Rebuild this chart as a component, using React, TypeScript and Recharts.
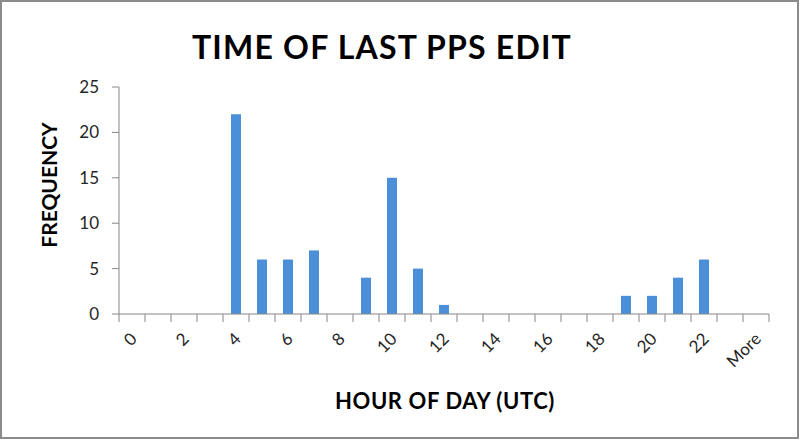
import { Bar, BarChart, XAxis, YAxis } from "recharts";

// Histogram of the hour (UTC) at which each PPS was last edited
const hours = [
	"0", "1", "2", "3", "4", "5", "6", "7", "8", "9", "10", "11",
	"12", "13", "14", "15", "16", "17", "18", "19", "20", "21", "22", "23", "More",
];
const frequency = [0, 0, 0, 0, 22, 6, 6, 7, 0, 4, 15, 5, 1, 0, 0, 0, 0, 0, 0, 2, 2, 4, 6, 0, 0];
const frequencyTicks = [0, 5, 10, 15, 20, 25];

const chartData = hours.map((hour, i) => ({ hour, count: frequency[i] }));

const WIDTH = 800;
const HEIGHT = 440;
const PLOT_LEFT = 119;
const PLOT_RIGHT = 769;
const PLOT_TOP = 87;
const PLOT_BOTTOM = 314;
const Y_AXIS_WIDTH = 60;
const X_AXIS_HEIGHT = 60;
const BAND = (PLOT_RIGHT - PLOT_LEFT) / hours.length;

const FONT = "Lato, 'Open Sans', sans-serif";
const AXIS_COLOR = "#868686";
const LABEL_COLOR = "#262626";
const BAR_COLOR = "#4a8fd8";

// Excel-style ticks: marks sit between categories, every other label is shown
function HourTick(props: any) {
	const { x, payload, index } = props;
	const left = x - BAND / 2;
	const showLabel = index % 2 === 0;
	return (
		<g>
			<line x1={left} x2={left} y1={PLOT_BOTTOM} y2={PLOT_BOTTOM + 8} stroke={AXIS_COLOR} />
			{index === hours.length - 1 && (
				<line
					x1={left + BAND}
					x2={left + BAND}
					y1={PLOT_BOTTOM}
					y2={PLOT_BOTTOM + 8}
					stroke={AXIS_COLOR}
				/>
			)}
			{showLabel && (
				<text
					x={x + 6}
					y={PLOT_BOTTOM + 26}
					transform={`rotate(-45, ${x + 6}, ${PLOT_BOTTOM + 26})`}
					textAnchor="end"
					fontFamily={FONT}
					fontSize={17}
					fill={LABEL_COLOR}
				>
					{payload.value}
				</text>
			)}
		</g>
	);
}

export default function App() {
	return (
		<div style={{ position: "absolute", left: 0, top: 0, width: WIDTH, height: HEIGHT, background: "#fff" }}>
			<BarChart
				width={WIDTH}
				height={HEIGHT}
				data={chartData}
				margin={{
					top: PLOT_TOP,
					right: WIDTH - PLOT_RIGHT,
					bottom: HEIGHT - PLOT_BOTTOM - X_AXIS_HEIGHT,
					left: PLOT_LEFT - Y_AXIS_WIDTH,
				}}
			>
				<XAxis
					dataKey="hour"
					height={X_AXIS_HEIGHT}
					interval={0}
					tickLine={false}
					axisLine={{ stroke: AXIS_COLOR }}
					tick={<HourTick />}
				/>
				<YAxis
					width={Y_AXIS_WIDTH}
					domain={[0, 25]}
					ticks={frequencyTicks}
					interval={0}
					tickSize={7}
					tickMargin={13}
					axisLine={{ stroke: AXIS_COLOR }}
					tickLine={{ stroke: AXIS_COLOR }}
					tick={{ fontFamily: FONT, fontSize: 17, fill: LABEL_COLOR }}
				/>
				<Bar dataKey="count" fill={BAR_COLOR} barSize={10} isAnimationActive={false} />
			</BarChart>
			<svg
				width={WIDTH}
				height={HEIGHT}
				style={{ position: "absolute", left: 0, top: 0, pointerEvents: "none" }}
			>
				<text
					x={382}
					y={59}
					textAnchor="middle"
					fontFamily={FONT}
					fontWeight="bold"
					fontSize={32}
					letterSpacing={1.2}
					fill="#000"
				>
					TIME OF LAST PPS EDIT
				</text>
				<text
					x={445}
					y={409}
					textAnchor="middle"
					fontFamily={FONT}
					fontWeight="bold"
					fontSize={22}
					letterSpacing={0.6}
					fill="#000"
				>
					HOUR OF DAY (UTC)
				</text>
				<text
					x={57}
					y={185}
					transform="rotate(-90, 57, 185)"
					textAnchor="middle"
					fontFamily={FONT}
					fontWeight="bold"
					fontSize={21}
					fill="#000"
				>
					FREQUENCY
				</text>
				<rect x={1} y={1} width={WIDTH - 3} height={HEIGHT - 3} fill="none" stroke="#8c8c8c" strokeWidth={2} />
			</svg>
		</div>
	);
}
